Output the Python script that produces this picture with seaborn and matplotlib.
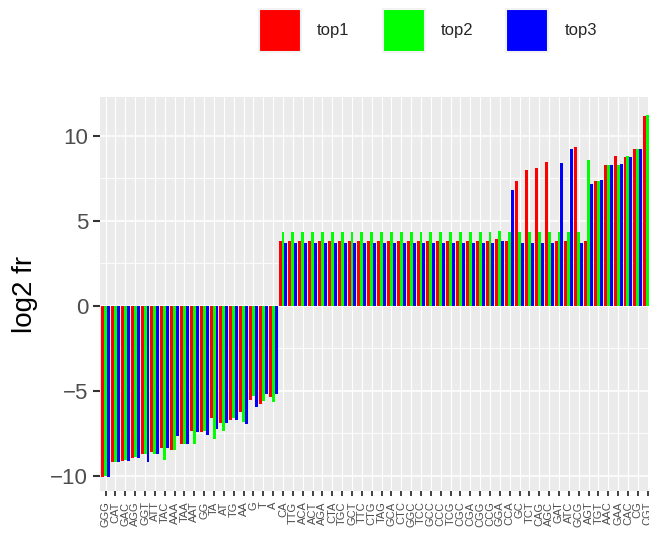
import matplotlib
matplotlib.use("Agg")
import matplotlib.pyplot as plt
from matplotlib.patches import Patch
import seaborn as sns
import pandas as pd
import numpy as np

categories = ["GGG", "CAT", "GAC", "AGG", "GGT", "ATT", "TAC", "AAA", "TAA", "AAT",
              "GG", "TA", "AT", "TG", "AA", "G", "T", "A", "CA", "TTG",
              "ACA", "ACT", "AGA", "CTA", "TGC", "GCT", "TTC", "CTG", "TAG", "GCA",
              "CTC", "GGC", "TCC", "GCC", "CCC", "TCG", "CGC", "CGA", "CGG", "CCG",
              "GGA", "CCA", "GC", "TCT", "CAG", "AGC", "GAT", "ATC", "GCG", "AGT",
              "TGT", "AAC", "GAA", "CAC", "CG", "CGT"]

top1 = [-10.1, -9.21, -9.12, -8.98, -8.74, -8.62, -8.39, -8.5, -8.15, -7.39,
        -7.45, -6.62, -6.92, -6.74, -6.27, -5.56, -5.8, -5.38, 3.82, 3.82,
        3.82, 3.82, 3.82, 3.82, 3.82, 3.82, 3.82, 3.82, 3.82, 3.82,
        3.82, 3.82, 3.82, 3.82, 3.82, 3.82, 3.82, 3.82, 3.82, 3.82,
        3.94, 3.82, 7.35, 8.0, 8.12, 8.47, 3.82, 3.82, 9.35, 3.82,
        7.35, 8.29, 8.82, 8.76, 9.24, 11.18]
top2 = [-10.04, -9.17, -9.06, -8.92, -8.7, -8.7, -9.1, -8.5, -8.15, -8.15,
        -7.39, -7.86, -7.39, -6.62, -6.86, -5.32, -5.62, -5.68, 4.35, 4.35,
        4.35, 4.35, 4.35, 4.35, 4.35, 4.35, 4.35, 4.35, 4.35, 4.35,
        4.35, 4.35, 4.35, 4.35, 4.35, 4.35, 4.35, 4.35, 4.35, 4.35,
        4.41, 4.35, 4.35, 4.35, 4.35, 4.35, 4.35, 4.35, 4.35, 8.59,
        7.35, 8.29, 8.29, 8.82, 9.24, 11.24]
top3 = [-10.1, -9.21, -9.12, -8.98, -9.21, -8.74, -8.39, -7.68, -8.15, -7.45,
        -7.62, -7.27, -6.92, -6.74, -6.97, -5.97, -5.21, -5.21, 3.71, 3.71,
        3.71, 3.71, 3.71, 3.71, 3.71, 3.71, 3.71, 3.71, 3.71, 3.71,
        3.71, 3.71, 3.71, 3.71, 3.71, 3.71, 3.71, 3.71, 3.71, 3.71,
        3.82, 6.82, 3.71, 3.71, 3.71, 3.71, 8.41, 9.24, 3.71, 7.18,
        7.41, 8.29, 8.35, 8.76, 9.24, 11.2]

series_names = ["top1", "top2", "top3"]
series_colors = ["#FF0000", "#00FF00", "#0000FF"]
y_ticks = [-10, -5, 0, 5, 10]
y_label = "log2 fr"

df = pd.DataFrame({
    "kmer": categories * 3,
    "variable": ["top1"] * len(categories) + ["top2"] * len(categories) + ["top3"] * len(categories),
    "value": top1 + top2 + top3,
})

sns.set_theme(style="darkgrid")
plt.rcParams["font.family"] = ["Liberation Sans", "DejaVu Sans"]

W, H = 649, 534
fig = plt.figure(figsize=(W / 100, H / 100), dpi=100)
ax = fig.add_axes([99.7 / W, 1 - 491 / H, (653.6 - 99.7) / W, (491 - 97) / H])
ax.set_facecolor("#EBEBEB")

sns.barplot(data=df, x="kmer", y="value", hue="variable", order=categories,
            hue_order=series_names, palette=dict(zip(series_names, series_colors)),
            width=0.9, saturation=1, errorbar=None, legend=False, ax=ax,
            linewidth=0, zorder=3)

ax.set_xlim(-0.6, len(categories) - 1 + 0.6)
ax.set_ylim(-10.9, 12.29)
ax.set_yticks(y_ticks)
ax.set_yticks([-7.5, -2.5, 2.5, 7.5], minor=True)
ax.grid(False)
ax.yaxis.grid(True, which="major", color="white", linewidth=1.1, zorder=0)
ax.yaxis.grid(True, which="minor", color="white", linewidth=0.6, zorder=0)
ax.xaxis.grid(True, which="major", color="white", linewidth=0.8, zorder=0)
ax.set_axisbelow(True)
for s in ax.spines.values():
    s.set_visible(False)

ax.set_xlabel("")
ax.set_ylabel(y_label, fontsize=20, color="black", labelpad=9)
ax.tick_params(axis="y", which="major", labelsize=16, labelcolor="#4D4D4D",
               length=4.75, width=1.5, color="#333333", left=True, pad=3.5)
ax.tick_params(axis="y", which="minor", length=0)
ax.tick_params(axis="x", labelsize=8, labelcolor="#4D4D4D", length=3.5, width=1.3,
               color="#333333", bottom=True, pad=4, labelrotation=90)
for lbl in ax.get_xticklabels():
    lbl.set_va("top")
    lbl.set_ha("center")

handles = [Patch(facecolor=c, edgecolor="#F2F2F2", linewidth=1.5, label=n)
           for n, c in zip(series_names, series_colors)]
fig.legend(handles=handles, loc="center", bbox_to_anchor=(428 / W, 1 - 30.5 / H),
           ncol=3, frameon=False, fontsize=12, handlelength=2.52, handleheight=3.59,
           handletextpad=0.96, columnspacing=1.98, borderpad=0)

fig.savefig("out.png", dpi=100)
